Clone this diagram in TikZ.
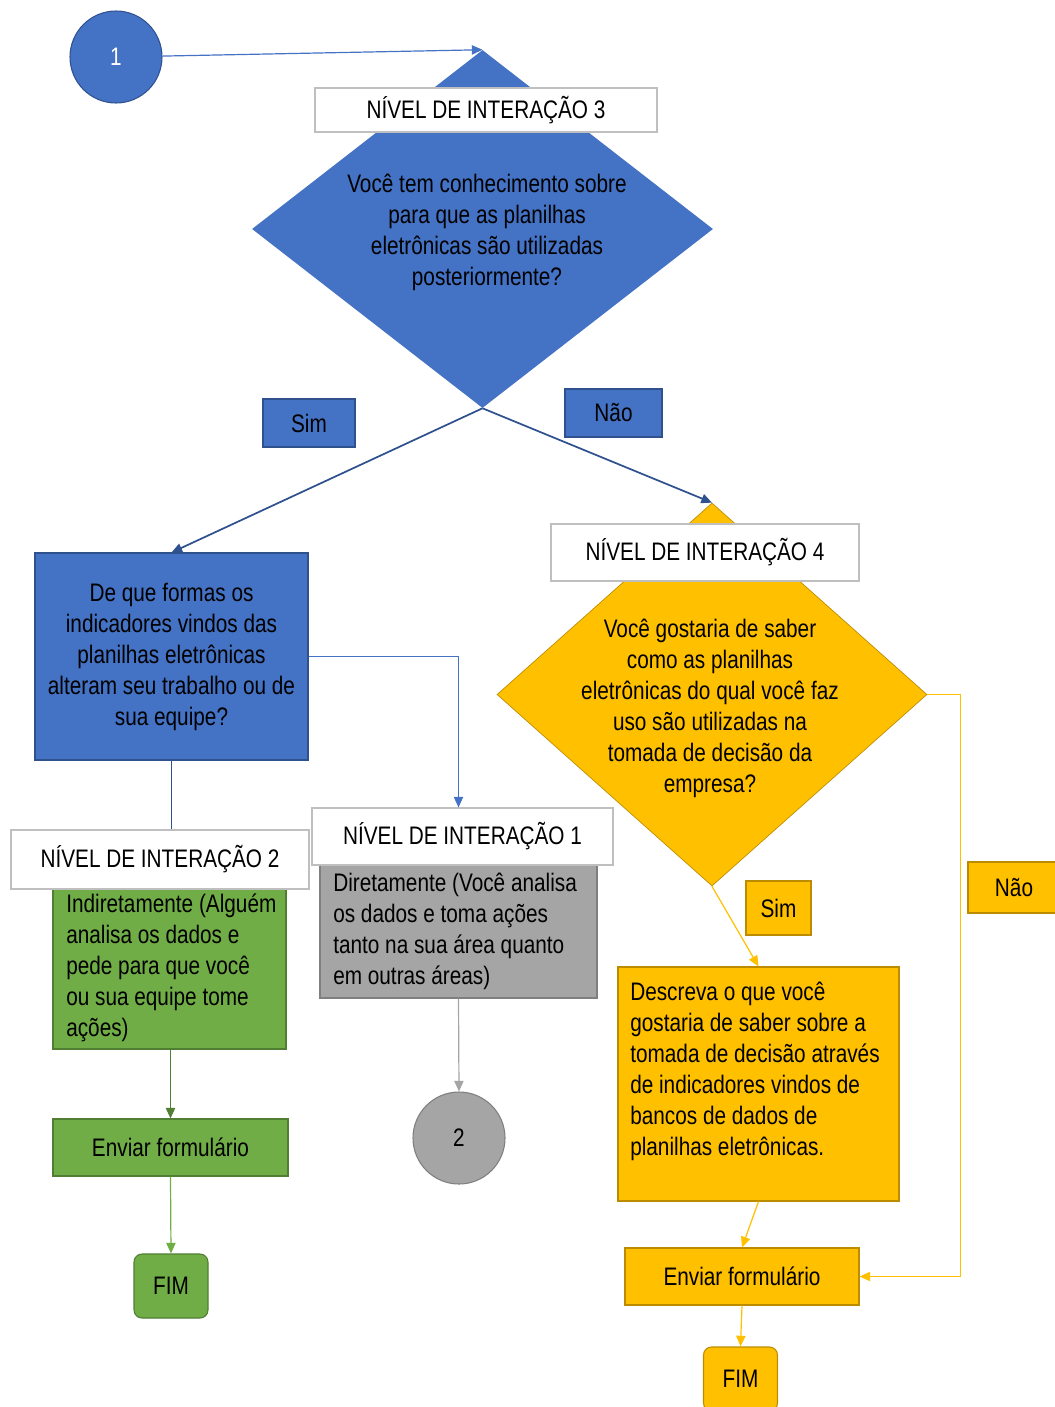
\documentclass[tikz,border=0pt]{standalone}
\usepackage{fontspec}
\setmainfont{Liberation Sans}[FakeStretch=0.82]
\usepackage{tikz}
\usetikzlibrary{arrows.meta, positioning, shapes.geometric, calc}
\definecolor{cwBlue}{HTML}{4472C4}
\definecolor{cwBlueDark}{HTML}{2F528F}
\definecolor{cwGreen}{HTML}{70AD47}
\definecolor{cwGreenDark}{HTML}{507E32}
\definecolor{cwGrey}{HTML}{A5A5A5}
\definecolor{cwGreyDark}{HTML}{7F7F7F}
\definecolor{cwGold}{HTML}{FFC000}
\definecolor{cwGoldDark}{HTML}{BC8C00}
\definecolor{cwFrame}{HTML}{BFBFBF}
\newcommand{\flowfont}{\fontsize{19}{23.25}\selectfont}
\tikzset{
    every picture/.style={
        font=\flowfont,
        >={Triangle[length=8pt,width=7pt]}
    },
    % Node styles
    sized/.style 2 args={minimum width=#1,minimum height=#2},
    bodytext/.style={align=left,anchor=west,inner sep=0pt},
    level/.style={rectangle,draw=cwFrame,fill=white,line width=0.8pt,inner sep=2pt},
    bluebox/.style={rectangle,draw=cwBlueDark,fill=cwBlue,line width=0.8pt,inner sep=2pt},
    greenbox/.style={rectangle,draw=cwGreenDark,fill=cwGreen,line width=0.8pt,inner sep=2pt},
    greybox/.style={rectangle,draw=cwGreyDark,fill=cwGrey,line width=0.8pt,inner sep=2pt},
    goldbox/.style={rectangle,draw=cwGoldDark,fill=cwGold,line width=0.8pt,inner sep=2pt},
    bluecircle/.style={circle,draw=cwBlueDark,fill=cwBlue,line width=0.8pt,minimum size=69pt,inner sep=0pt},
    greycircle/.style={circle,draw=cwGreyDark,fill=cwGrey,line width=0.8pt,minimum size=69pt,inner sep=0pt},
    bluediamond/.style={diamond,fill=cwBlue,inner sep=0pt},
    golddiamond/.style={diamond,draw=cwGoldDark,fill=cwGold,line width=0.5pt,inner sep=0pt},
    % Flow styles
    bluedark/.style={line width=1.3pt,cwBlueDark},
    blueline/.style={line width=0.9pt,cwBlue},
    greendark/.style={line width=1.1pt,cwGreenDark},
    greenline/.style={line width=0.9pt,cwGreen},
    greyline/.style={line width=0.9pt,cwGrey},
    goldline/.style={line width=0.9pt,cwGold}
}

\begin{document}
\begin{tikzpicture}[x=0.75pt, y=-0.75pt]
    \useasboundingbox (0,0) rectangle (1054,1407);

    % Start and level 3 question
    \node[bluecircle, text=white] (c1) at (116,57) {1};
    \node[bluediamond, sized={345.75pt}{268.5pt}] (q3) at (482.5,229) {};
    \node[align=center] (q3text) at (487,232) {Você tem conhecimento sobre\\para que as planilhas\\eletrônicas são utilizadas\\posteriormente?};
    \node[level, sized={256.5pt}{33pt}] (lvl3) at (486,110) {NÍVEL DE INTERAÇÃO 3};

    % Answers of level 3
    \node[bluebox, sized={69pt}{36pt}] (simA) at (309,423) {Sim};
    \node[bluebox, sized={72.75pt}{36pt}] (naoA) at (613.5,413) {Não};

    % Sim branch
    \node[bluebox, sized={204.75pt}{155.25pt}, align=center] (q3a) at (171.5,656.5) {De que formas os\\indicadores vindos das\\planilhas eletrônicas\\alteram seu trabalho ou de\\sua equipe?};

    % Level 2 (green)
    \node[greenbox, sized={174.75pt}{120.75pt}] (ansB) at (169.5,968.5) {};
    \node[bodytext] (ansBtext) at (66,968) {Indiretamente (Alguém\\analisa os dados e\\pede para que você\\ou sua equipe tome\\ações)};
    \node[level, sized={223.5pt}{44.25pt}] (lvl2) at (160,859.5) {NÍVEL DE INTERAÇÃO 2};
    \node[greenbox, sized={176.25pt}{42.75pt}] (sendG) at (170.5,1147.5) {Enviar formulário};
    \node[greenbox, rounded corners=6pt, sized={55.5pt}{48pt}] (fimG) at (171,1286) {FIM};

    % Level 1 (grey)
    \node[greybox, sized={207.75pt}{99.75pt}] (ansA) at (458.5,931.5) {};
    \node[bodytext] (ansAtext) at (333,931) {Diretamente (Você analisa\\os dados e toma ações\\tanto na sua área quanto\\em outras áreas)};
    \node[level, sized={225.75pt}{42.75pt}] (lvl1) at (462.5,836.5) {NÍVEL DE INTERAÇÃO 1};
    \node[greycircle] (c2) at (459,1138) {2};

    % Level 4 (yellow)
    \node[golddiamond, sized={322.5pt}{287.25pt}] (q4) at (712,694.5) {};
    \node[align=center] (q4text) at (710,708) {Você gostaria de saber\\como as planilhas\\eletrônicas do qual você faz\\uso são utilizadas na\\tomada de decisão da\\empresa?};
    \node[level, sized={231pt}{42.75pt}] (lvl4) at (705,552.5) {NÍVEL DE INTERAÇÃO 4};
    \node[goldbox, sized={48.75pt}{40.5pt}] (simB) at (778.5,908) {Sim};
    \node[goldbox, sized={69pt}{38.25pt}] (naoB) at (1014,887.5) {Não};
    \node[goldbox, sized={210.75pt}{175.5pt}] (q4a) at (758.5,1084) {};
    \node[bodytext] (q4atext) at (630,1071) {Descreva o que você\\gostaria de saber sobre a\\tomada de decisão através\\de indicadores vindos de\\bancos de dados de\\planilhas eletrônicas.};
    \node[goldbox, sized={175.5pt}{42.75pt}] (sendY) at (742,1276.5) {Enviar formulário};
    \node[goldbox, rounded corners=6pt, sized={55.5pt}{48pt}] (fimY) at (740.5,1379) {FIM};

    % Connectors
    \draw[->, blueline] (c1) -- (q3.north);
    \draw[->, bluedark] (q3.south) -- (q3a.north);
    \draw[->, bluedark] (q3.south) -- (q4.north);
    \draw[->, blueline] (q3a.east) -| (ansA.north |- lvl1.north);
    \draw[bluedark] (q3a.south) -- (q3a.south |- lvl2.north);
    \draw[->, greendark] (sendG.north |- ansB.south) -- (sendG.north);
    \draw[->, greenline] (sendG.south) -- (fimG.north);
    \draw[->, greyline] (ansA.south) -- (c2.north);
    \draw[->, goldline] (q4.south) -- (q4a.north);
    \draw[->, goldline] (q4a.south) -- (sendY.north);
    \draw[->, goldline] (q4.east) -- ++(33,0) |- (sendY.east);
    \draw[->, goldline] (sendY.south) -- (fimY.north);
\end{tikzpicture}
\end{document}
